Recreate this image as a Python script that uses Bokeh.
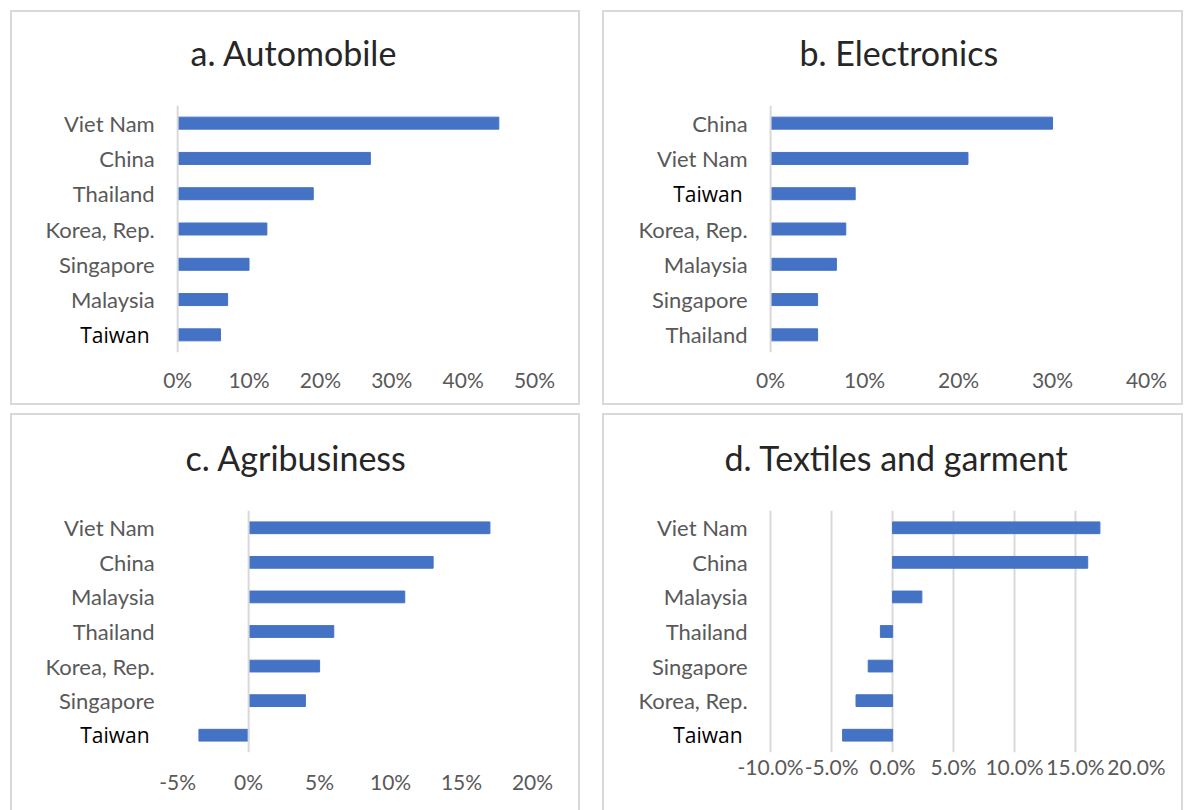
from bokeh.plotting import figure
from bokeh.models import (FactorRange, Range1d, FixedTicker, NumeralTickFormatter,
                          Span, ColumnDataSource, Title)
from bokeh.layouts import column, row
from bokeh.embed import file_html
from bokeh.resources import INLINE

# ---------------- data ----------------
auto_countries = ["Viet Nam", "China", "Thailand", "Korea, Rep.", "Singapore", "Malaysia", "Taiwan"]
auto_values = [0.45, 0.27, 0.19, 0.125, 0.10, 0.07, 0.06]
auto_ticks = [0.0, 0.1, 0.2, 0.3, 0.4, 0.5]

elec_countries = ["China", "Viet Nam", "Taiwan", "Korea, Rep.", "Malaysia", "Singapore", "Thailand"]
elec_values = [0.30, 0.21, 0.09, 0.08, 0.07, 0.05, 0.05]
elec_ticks = [0.0, 0.1, 0.2, 0.3, 0.4]

agri_countries = ["Viet Nam", "China", "Malaysia", "Thailand", "Korea, Rep.", "Singapore", "Taiwan"]
agri_values = [0.17, 0.13, 0.11, 0.06, 0.05, 0.04, -0.035]
agri_ticks = [-0.05, 0.0, 0.05, 0.10, 0.15, 0.20]

text_countries = ["Viet Nam", "China", "Malaysia", "Thailand", "Singapore", "Korea, Rep.", "Taiwan"]
text_values = [0.17, 0.16, 0.024, -0.01, -0.02, -0.03, -0.041]
text_ticks = [-0.10, -0.05, 0.0, 0.05, 0.10, 0.15, 0.20]

titles = ["a. Automobile", "b. Electronics", "c. Agribusiness", "d. Textiles and garment"]
highlight = "Taiwan"

# ---------------- style ----------------
BAR = "#4472C4"
GREY_TXT = "#595959"
LINE = "#d9d9d9"
FONT = "Lato"
HL_FONT = "Open Sans"
LEFT_PAD = 20          # px between panel border and the (extended) plot frame


def make_panel(title, countries, values, ticks, fmt, width, height, mb, title_offset,
               grid=False, x_standoff=14, bottom_border=True):
    cats = list(reversed(countries))
    # the category labels live inside the frame, in a strip left of the first tick
    label_px = mb[0] - LEFT_PAD
    frame_px = width - 4 - mb[0] - mb[1]
    x_start = ticks[0] - (ticks[-1] - ticks[0]) * label_px / frame_px

    p = figure(width=width, height=height, y_range=FactorRange(*cats),
               x_range=Range1d(x_start, ticks[-1]),
               output_backend="svg", toolbar_location=None,
               min_border_left=LEFT_PAD, min_border_right=mb[1],
               min_border_top=mb[2], min_border_bottom=mb[3])
    st = {"border": "2px solid #d9d9d9"}
    if not bottom_border:
        st["border-bottom"] = "none"
    p.styles = st
    p.outline_line_color = None
    p.background_fill_color = "white"
    p.border_fill_color = "white"

    # empty spacer between the frame and the title (lifts the title up)
    p.add_layout(Title(text=" ", text_font_size="20px", standoff=4), "above")

    p.title.text = title
    p.title.text_font = FONT
    p.title.text_font_size = "34px"
    p.title.text_font_style = "normal"
    p.title.text_color = "#262626"
    p.title.align = "left"
    p.title.offset = title_offset + label_px
    p.title.standoff = 10

    src = ColumnDataSource(dict(c=countries, v=values))
    p.hbar(y="c", left=0, right="v", height=0.34, source=src,
           fill_color=BAR, line_color=BAR)

    # x axis
    xa = p.xaxis[0]
    xa.ticker = FixedTicker(ticks=ticks)
    xa.formatter = NumeralTickFormatter(format=fmt)
    xa.axis_line_color = None
    xa.major_tick_line_color = None
    xa.minor_tick_line_color = None
    xa.major_tick_out = 0
    xa.major_label_standoff = x_standoff
    xa.major_label_text_font = FONT
    xa.major_label_text_font_size = "21px"
    xa.major_label_text_color = GREY_TXT

    # category labels (Taiwan in black, as in the source)
    p.yaxis.visible = False
    is_h = [c == highlight for c in countries]
    lab = ColumnDataSource(dict(
        x=[ticks[0]] * len(countries), y=countries, t=countries,
        col=["black" if h else GREY_TXT for h in is_h],
        font=[HL_FONT if h else FONT for h in is_h],
        size=["21px" if h else "22px" for h in is_h],
        off=[-28 if h else -23 for h in is_h],
    ))
    p.text(x="x", y="y", text="t", source=lab, x_offset="off",
           text_align="right", text_baseline="middle",
           text_font="font", text_font_size="size", text_color="col")

    p.ygrid.grid_line_color = None
    if grid:
        p.xgrid.ticker = FixedTicker(ticks=ticks)
        p.xgrid.grid_line_color = LINE
        p.xgrid.grid_line_width = 2
    else:
        p.xgrid.grid_line_color = None
        p.add_layout(Span(location=0, dimension="height", line_color=LINE, line_width=2))
    return p


pa = make_panel(titles[0], auto_countries, auto_values, auto_ticks, "0%",
                570, 395, (164, 48, 93, 55), 14)
pb = make_panel(titles[1], elec_countries, elec_values, elec_ticks, "0%",
                581, 395, (165, 39, 93, 55), 30)
pc = make_panel(titles[2], agri_countries, agri_values, agri_ticks, "0%",
                570, 397, (164, 50, 95, 57), 9, x_standoff=16, bottom_border=False)
pd = make_panel(titles[3], text_countries, text_values, text_ticks, "0.0%",
                581, 397, (165, 49, 95, 60), -45, grid=True, x_standoff=1,
                bottom_border=False)

layout = column(row(pa, pb, spacing=22), row(pc, pd, spacing=22), spacing=8,
                margin=(10, 0, 0, 10))

open("out.html", "w").write(file_html(layout, INLINE))
